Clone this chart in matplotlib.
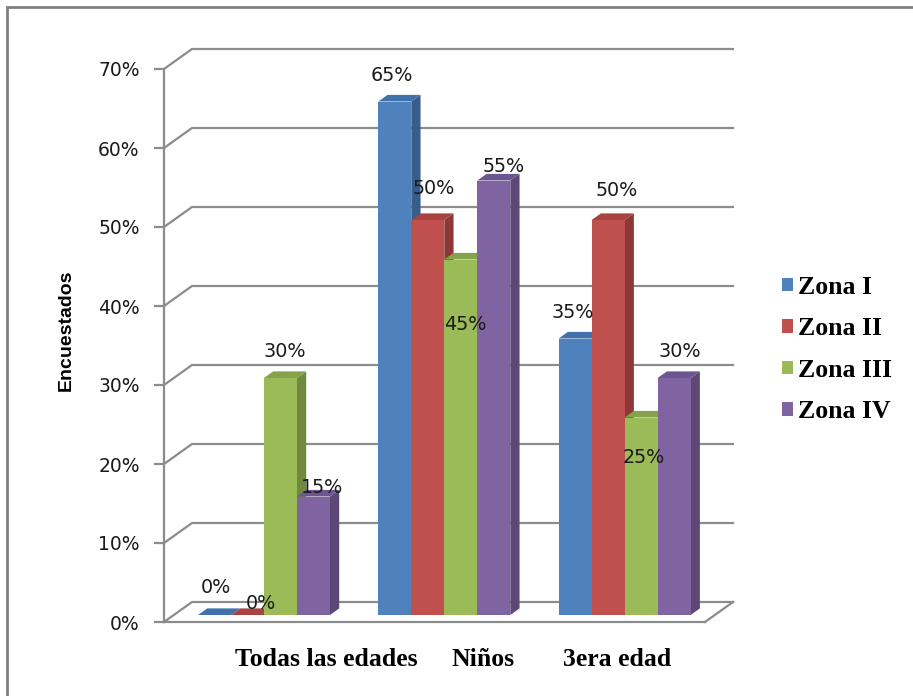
import matplotlib
matplotlib.use("Agg")
import matplotlib.pyplot as plt
from matplotlib.patches import Polygon, Patch, Rectangle
from matplotlib.lines import Line2D

# ---- data ----
categories = ["Todas las edades", "Niños", "3era edad"]
zones = ["Zona I", "Zona II", "Zona III", "Zona IV"]
zona_1 = [0, 65, 35]
zona_2 = [0, 50, 50]
zona_3 = [30, 45, 25]
zona_4 = [15, 55, 30]
y_ticks = [0, 10, 20, 30, 40, 50, 60, 70]
y_tick_labels = [f"{t}%" for t in y_ticks]
series = [zona_1, zona_2, zona_3, zona_4]

# ---- styling ----
front_colors = ["#4F81BD", "#C0504D", "#9BBB59", "#8064A2"]
side_colors = ["#385D8A", "#8C3836", "#71893F", "#5C4776"]
top_colors = ["#4171AB", "#A84340", "#85A34A", "#6C5690"]
grid_color = "#8C8C8C"
text_color = "#1A1A1A"

# label nudges (x in pixels, y in percent points) relative to bar tops
label_dx_px = [[1.5, -2.5, -2.5], [13, 5.5, 8.5], [4.5, 4.5, 2.5], [9, 9.5, 5.5]]
label_dy = [[4.4, 4.2, 4.2], [2.3, 4.9, 4.6], [4.2, -7.3, -4.2], [2.0, 2.6, 4.2]]
cat_label_x = [0.90, 1.77, 2.51]

W, H = 913, 696
fig = plt.figure(figsize=(W / 100, H / 100), dpi=100)
fig.patch.set_facecolor("white")

# outer frame
fig.add_artist(Rectangle((7 / W, -0.05), 1.2, (H - 7) / H + 0.05, transform=fig.transFigure,
                         fill=False, edgecolor="#808080", linewidth=2))

# front plane of the 3D box
ax = fig.add_axes([164 / W, (H - 622) / H, 541 / W, 553 / H])
ax.set_xlim(0, 3)
ax.set_ylim(0, 70)
ax.patch.set_alpha(0)

px_x = 541 / 3.0      # pixels per category unit
px_y = 553 / 70.0     # pixels per percent
DX = 28 / px_x        # full depth, horizontal shift
DY = 20 / px_y        # full depth, vertical shift


def proj(x, v, d):
    return (x + d * DX, v + d * DY)


# back wall gridlines and left wall diagonals
for t in y_ticks:
    pts = [proj(0, t, 0), proj(0, t, 1), proj(3, t, 1)]
    ax.add_line(Line2D([p[0] for p in pts], [p[1] for p in pts], color=grid_color,
                       lw=1.6, clip_on=False, zorder=1))
# floor right edge
pts = [proj(3, 0, 0), proj(3, 0, 1)]
ax.add_line(Line2D([p[0] for p in pts], [p[1] for p in pts], color=grid_color,
                   lw=1.6, clip_on=False, zorder=1))

# bars
w = 0.183
d0, d1 = 0.35, 0.68
for c in range(len(categories)):
    for s, vals in enumerate(series):
        v = vals[c]
        x0 = c + 0.5 - 2 * w + s * w
        x1 = x0 + w
        side = [proj(x1, 0, d0), proj(x1, 0, d1), proj(x1, v, d1), proj(x1, v, d0)]
        top = [proj(x0, v, d0), proj(x1, v, d0), proj(x1, v, d1), proj(x0, v, d1)]
        front = [proj(x0, 0, d0), proj(x1, 0, d0), proj(x1, v, d0), proj(x0, v, d0)]
        z = 2 + c * 0.1 + s * 0.01
        ax.add_patch(Polygon(side, closed=True, facecolor=side_colors[s], edgecolor="none",
                             clip_on=False, zorder=z))
        ax.add_patch(Polygon(top, closed=True, facecolor=top_colors[s], edgecolor="none",
                             clip_on=False, zorder=z))
        ax.add_patch(Polygon(front, closed=True, facecolor=front_colors[s], edgecolor="none",
                             clip_on=False, zorder=z))
        cx = (x0 + x1) / 2 + d0 * DX + label_dx_px[s][c] / px_x
        ax.text(cx, v + label_dy[s][c], f"{v}%", ha="center", va="center",
                fontsize=13.8, family="DejaVu Sans", color=text_color, zorder=10,
                clip_on=False)

# axes styling
for side_name in ["top", "right"]:
    ax.spines[side_name].set_visible(False)
for side_name in ["left", "bottom"]:
    ax.spines[side_name].set_color(grid_color)
    ax.spines[side_name].set_linewidth(1.6)
    ax.spines[side_name].set_zorder(1.5)
ax.set_xticks([])
ax.set_yticks(y_ticks)
ax.set_yticklabels(y_tick_labels, fontsize=13.5, family="DejaVu Sans", color=text_color)
ax.tick_params(axis="y", direction="out", length=7.5, width=1.6, color=grid_color, pad=10)

# category labels
for i, name in enumerate(categories):
    ax.text(cat_label_x[i], -38 / px_y, name, ha="center", va="center",
            fontsize=18.5, family="Liberation Serif", fontweight="bold", color="black",
            clip_on=False)

# y axis title
fig.text(66 / W, 1 - 330 / H, "Encuestados", rotation=90, ha="center", va="center",
         fontsize=14, family="Liberation Sans", fontweight="bold", color="black")

# legend
handles = [Patch(facecolor=front_colors[i], edgecolor="none") for i in range(4)]
fig.legend(handles, zones, loc="center left", bbox_to_anchor=(782 / W, 1 - 349.5 / H),
           frameon=False, borderpad=0, borderaxespad=0, handlelength=0.43,
           handleheight=0.43, handletextpad=0.18, labelspacing=0.72,
           prop={"family": "Liberation Serif", "weight": "bold", "size": 18.5})

fig.savefig("out.png", dpi=100, facecolor="white")
